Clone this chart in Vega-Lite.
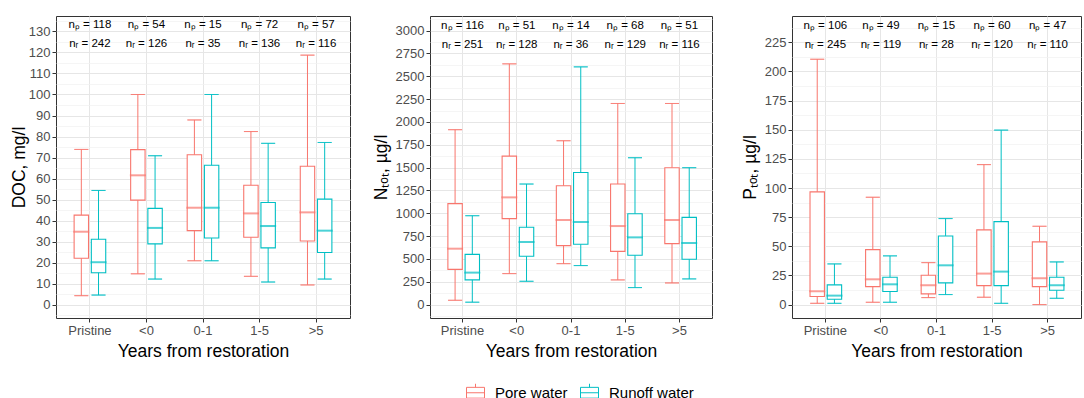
{
  "$schema": "https://vega.github.io/schema/vega-lite/v6.json",
  "padding": {"left": 9, "top": 15, "right": 0, "bottom": 0},
  "background": "white",
  "bounds": "flush",
  "spacing": 80,
  "datasets": {
    "doc": [
      {"cat": "Pristine", "type": "Pore water", "min": 4.4, "q1": 22.2, "med": 34.8, "q3": 42.7, "max": 73.9},
      {"cat": "Pristine", "type": "Runoff water", "min": 4.7, "q1": 15.3, "med": 20.3, "q3": 31.2, "max": 54.4},
      {"cat": "<0", "type": "Pore water", "min": 14.8, "q1": 49.8, "med": 61.6, "q3": 73.8, "max": 100},
      {"cat": "<0", "type": "Runoff water", "min": 12.3, "q1": 29.0, "med": 36.6, "q3": 45.9, "max": 70.9},
      {"cat": "0-1", "type": "Pore water", "min": 21.0, "q1": 35.3, "med": 46.2, "q3": 71.4, "max": 87.9},
      {"cat": "0-1", "type": "Runoff water", "min": 21.0, "q1": 31.8, "med": 46.2, "q3": 66.4, "max": 100},
      {"cat": "1-5", "type": "Pore water", "min": 13.6, "q1": 32.2, "med": 43.5, "q3": 56.9, "max": 82.4},
      {"cat": "1-5", "type": "Runoff water", "min": 10.9, "q1": 27.1, "med": 37.5, "q3": 48.7, "max": 76.8},
      {"cat": ">5", "type": "Pore water", "min": 9.5, "q1": 30.4, "med": 44.0, "q3": 65.9, "max": 118.7},
      {"cat": ">5", "type": "Runoff water", "min": 12.3, "q1": 24.9, "med": 35.3, "q3": 50.3, "max": 77.2}
    ],
    "ntot": [
      {"cat": "Pristine", "type": "Pore water", "min": 47, "q1": 386, "med": 612, "q3": 1105, "max": 1915},
      {"cat": "Pristine", "type": "Runoff water", "min": 26, "q1": 270, "med": 350, "q3": 550, "max": 973},
      {"cat": "<0", "type": "Pore water", "min": 339, "q1": 941, "med": 1174, "q3": 1626, "max": 2636},
      {"cat": "<0", "type": "Runoff water", "min": 255, "q1": 529, "med": 685, "q3": 846, "max": 1320},
      {"cat": "0-1", "type": "Pore water", "min": 448, "q1": 645, "med": 926, "q3": 1302, "max": 1794},
      {"cat": "0-1", "type": "Runoff water", "min": 427, "q1": 660, "med": 904, "q3": 1447, "max": 2603},
      {"cat": "1-5", "type": "Pore water", "min": 270, "q1": 583, "med": 860, "q3": 1320, "max": 2202},
      {"cat": "1-5", "type": "Runoff water", "min": 186, "q1": 540, "med": 736, "q3": 995, "max": 1608},
      {"cat": ">5", "type": "Pore water", "min": 237, "q1": 667, "med": 926, "q3": 1499, "max": 2202},
      {"cat": ">5", "type": "Runoff water", "min": 281, "q1": 496, "med": 675, "q3": 955, "max": 1499}
    ],
    "ptot": [
      {"cat": "Pristine", "type": "Pore water", "min": 1.1, "q1": 6.9, "med": 11.4, "q3": 96.7, "max": 210.5},
      {"cat": "Pristine", "type": "Runoff water", "min": 1.1, "q1": 4.6, "med": 7.7, "q3": 16.9, "max": 34.9},
      {"cat": "<0", "type": "Pore water", "min": 2.0, "q1": 15.4, "med": 21.7, "q3": 47.2, "max": 92.1},
      {"cat": "<0", "type": "Runoff water", "min": 2.0, "q1": 11.2, "med": 17.4, "q3": 23.5, "max": 41.8},
      {"cat": "0-1", "type": "Pore water", "min": 6.0, "q1": 9.2, "med": 16.6, "q3": 25.2, "max": 36.0},
      {"cat": "0-1", "type": "Runoff water", "min": 8.6, "q1": 18.6, "med": 33.7, "q3": 58.9, "max": 73.8},
      {"cat": "1-5", "type": "Pore water", "min": 6.3, "q1": 16.3, "med": 26.6, "q3": 64.1, "max": 120.1},
      {"cat": "1-5", "type": "Runoff water", "min": 1.1, "q1": 16.3, "med": 28.3, "q3": 71.2, "max": 149.7},
      {"cat": ">5", "type": "Pore water", "min": 0, "q1": 15.4, "med": 22.6, "q3": 53.8, "max": 67.2},
      {"cat": ">5", "type": "Runoff water", "min": 5.4, "q1": 12.3, "med": 16.6, "q3": 23.5, "max": 36.6}
    ],
    "ndoc": [
      {"cat": "Pristine", "np": "nₚ = 118", "nr": "nᵣ = 242"},
      {"cat": "<0", "np": "nₚ = 54", "nr": "nᵣ = 126"},
      {"cat": "0-1", "np": "nₚ = 15", "nr": "nᵣ = 35"},
      {"cat": "1-5", "np": "nₚ = 72", "nr": "nᵣ = 136"},
      {"cat": ">5", "np": "nₚ = 57", "nr": "nᵣ = 116"}
    ],
    "nntot": [
      {"cat": "Pristine", "np": "nₚ = 116", "nr": "nᵣ = 251"},
      {"cat": "<0", "np": "nₚ = 51", "nr": "nᵣ = 128"},
      {"cat": "0-1", "np": "nₚ = 14", "nr": "nᵣ = 36"},
      {"cat": "1-5", "np": "nₚ = 68", "nr": "nᵣ = 129"},
      {"cat": ">5", "np": "nₚ = 51", "nr": "nᵣ = 116"}
    ],
    "nptot": [
      {"cat": "Pristine", "np": "nₚ = 106", "nr": "nᵣ = 245"},
      {"cat": "<0", "np": "nₚ = 49", "nr": "nᵣ = 119"},
      {"cat": "0-1", "np": "nₚ = 15", "nr": "nᵣ = 28"},
      {"cat": "1-5", "np": "nₚ = 60", "nr": "nᵣ = 120"},
      {"cat": ">5", "np": "nₚ = 47", "nr": "nᵣ = 110"}
    ]
  },
  "hconcat": [
    {
      "width": 294, "height": 302,
      "layer": [
        {
          "data": {"name": "doc"},
          "encoding": {
            "x": {"field": "cat", "type": "nominal", "sort": ["Pristine", "<0", "0-1", "1-5", ">5"], "scale": {"paddingInner": 0, "paddingOuter": 0.1}, "axis": {"title": "Years from restoration", "labelAngle": 0, "grid": true}},
            "xOffset": {"field": "type", "type": "nominal", "scale": {"paddingInner": 0.163, "paddingOuter": 0.724}}
          },
          "layer": [
            {"mark": {"type": "bar", "fill": "white", "strokeWidth": 1.1}, "encoding": {"y": {"field": "q1", "type": "quantitative", "scale": {"domain": [-6.2, 137.3], "nice": false, "zero": false},
              "axis": {"title": "DOC, mg/l", "titlePadding": 0, "tickCount": 100, "labelOverlap": false, "values": [-5,0,5,10,15,20,25,30,35,40,45,50,55,60,65,70,75,80,85,90,95,100,105,110,115,120,125,130,135], "format": "d",
                "labelExpr": "datum.value % 10 === 0 ? datum.label : ''",
                "labelFontSize": {"condition": {"test": "datum.value % 10 === 0", "value": 13}, "value": 1},
                "tickOpacity": {"condition": {"test": "datum.value % 10 === 0", "value": 1}, "value": 0},
                "gridColor": {"condition": {"test": "datum.value % 10 === 0", "value": "#E6E6E6"}, "value": "#F0F0F0"},
                "gridWidth": {"condition": {"test": "datum.value % 10 === 0", "value": 1}, "value": 0.7}}},
              "y2": {"field": "q3"},
              "stroke": {"field": "type", "type": "nominal", "scale": {"domain": ["Pore water", "Runoff water"], "range": ["#F8766D", "#00BFC4"]},
                "legend": {"title": null, "orient": "none", "legendX": 410, "legendY": 367, "direction": "horizontal", "symbolType": "M-1,-0.6H1V0.6H-1Z M0,-0.6V-1 M0,0.6V1 M-1,0H1", "symbolSize": 324, "symbolStrokeWidth": 1, "symbolFillColor": "white", "labelFontSize": 15, "labelColor": "black", "labelOffset": 10, "columnPadding": 10}}}},
            {"mark": {"type": "rule", "strokeWidth": 1}, "encoding": {"y": {"field": "min", "type": "quantitative"}, "y2": {"field": "q1"}, "stroke": {"field": "type", "type": "nominal"}}},
            {"mark": {"type": "rule", "strokeWidth": 1}, "encoding": {"y": {"field": "q3", "type": "quantitative"}, "y2": {"field": "max"}, "stroke": {"field": "type", "type": "nominal"}}},
            {"mark": {"type": "tick", "size": 14, "thickness": 0.01, "filled": false, "strokeWidth": 2}, "encoding": {"y": {"field": "med", "type": "quantitative"}, "stroke": {"field": "type", "type": "nominal"}}},
            {"mark": {"type": "tick", "size": 14, "thickness": 0.01, "filled": false, "strokeWidth": 1}, "encoding": {"y": {"field": "min", "type": "quantitative"}, "stroke": {"field": "type", "type": "nominal"}}},
            {"mark": {"type": "tick", "size": 14, "thickness": 0.01, "filled": false, "strokeWidth": 1}, "encoding": {"y": {"field": "max", "type": "quantitative"}, "stroke": {"field": "type", "type": "nominal"}}}
          ]
        },
        {"data": {"name": "ndoc"}, "mark": {"type": "text", "fontSize": 11.5, "color": "black", "baseline": "middle"},
          "encoding": {"x": {"field": "cat", "type": "nominal", "sort": ["Pristine", "<0", "0-1", "1-5", ">5"]}, "y": {"datum": 132.9}, "text": {"field": "np"}}},
        {"data": {"name": "ndoc"}, "mark": {"type": "text", "fontSize": 11.5, "color": "black", "baseline": "middle"},
          "encoding": {"x": {"field": "cat", "type": "nominal", "sort": ["Pristine", "<0", "0-1", "1-5", ">5"]}, "y": {"datum": 123.8}, "text": {"field": "nr"}}}
      ]
    },
    {
      "width": 282, "height": 302,
      "layer": [
        {
          "data": {"name": "ntot"},
          "encoding": {
            "x": {"field": "cat", "type": "nominal", "sort": ["Pristine", "<0", "0-1", "1-5", ">5"], "scale": {"paddingInner": 0, "paddingOuter": 0.1}, "axis": {"title": "Years from restoration", "labelAngle": 0, "grid": true}},
            "xOffset": {"field": "type", "type": "nominal", "scale": {"paddingInner": 0.163, "paddingOuter": 0.724}}
          },
          "layer": [
            {"mark": {"type": "bar", "fill": "white", "strokeWidth": 1.1}, "encoding": {"y": {"field": "q1", "type": "quantitative", "scale": {"domain": [-147, 3160], "nice": false, "zero": false},
              "axis": {"title": "Nₜₒₜ, µg/l", "titlePadding": 5, "tickCount": 100, "labelOverlap": false, "values": [-125,0,125,250,375,500,625,750,875,1000,1125,1250,1375,1500,1625,1750,1875,2000,2125,2250,2375,2500,2625,2750,2875,3000,3125], "format": "d",
                "labelExpr": "datum.value % 250 === 0 ? datum.label : ''",
                "labelFontSize": {"condition": {"test": "datum.value % 250 === 0", "value": 13}, "value": 1},
                "tickOpacity": {"condition": {"test": "datum.value % 250 === 0", "value": 1}, "value": 0},
                "gridColor": {"condition": {"test": "datum.value % 250 === 0", "value": "#E6E6E6"}, "value": "#F0F0F0"},
                "gridWidth": {"condition": {"test": "datum.value % 250 === 0", "value": 1}, "value": 0.7}}},
              "y2": {"field": "q3"},
              "stroke": {"field": "type", "type": "nominal", "scale": {"domain": ["Pore water", "Runoff water"], "range": ["#F8766D", "#00BFC4"]},
                "legend": {"title": null, "orient": "none", "legendX": 410, "legendY": 367, "direction": "horizontal", "symbolType": "M-1,-0.6H1V0.6H-1Z M0,-0.6V-1 M0,0.6V1 M-1,0H1", "symbolSize": 324, "symbolStrokeWidth": 1, "symbolFillColor": "white", "labelFontSize": 15, "labelColor": "black", "labelOffset": 10, "columnPadding": 10}}}},
            {"mark": {"type": "rule", "strokeWidth": 1}, "encoding": {"y": {"field": "min", "type": "quantitative"}, "y2": {"field": "q1"}, "stroke": {"field": "type", "type": "nominal"}}},
            {"mark": {"type": "rule", "strokeWidth": 1}, "encoding": {"y": {"field": "q3", "type": "quantitative"}, "y2": {"field": "max"}, "stroke": {"field": "type", "type": "nominal"}}},
            {"mark": {"type": "tick", "size": 14, "thickness": 0.01, "filled": false, "strokeWidth": 2}, "encoding": {"y": {"field": "med", "type": "quantitative"}, "stroke": {"field": "type", "type": "nominal"}}},
            {"mark": {"type": "tick", "size": 14, "thickness": 0.01, "filled": false, "strokeWidth": 1}, "encoding": {"y": {"field": "min", "type": "quantitative"}, "stroke": {"field": "type", "type": "nominal"}}},
            {"mark": {"type": "tick", "size": 14, "thickness": 0.01, "filled": false, "strokeWidth": 1}, "encoding": {"y": {"field": "max", "type": "quantitative"}, "stroke": {"field": "type", "type": "nominal"}}}
          ]
        },
        {"data": {"name": "nntot"}, "mark": {"type": "text", "fontSize": 11.5, "color": "black", "baseline": "middle"},
          "encoding": {"x": {"field": "cat", "type": "nominal", "sort": ["Pristine", "<0", "0-1", "1-5", ">5"]}, "y": {"datum": 3047}, "text": {"field": "np"}}},
        {"data": {"name": "nntot"}, "mark": {"type": "text", "fontSize": 11.5, "color": "black", "baseline": "middle"},
          "encoding": {"x": {"field": "cat", "type": "nominal", "sort": ["Pristine", "<0", "0-1", "1-5", ">5"]}, "y": {"datum": 2847}, "text": {"field": "nr"}}}
      ]
    },
    {
      "width": 289, "height": 302,
      "layer": [
        {
          "data": {"name": "ptot"},
          "encoding": {
            "x": {"field": "cat", "type": "nominal", "sort": ["Pristine", "<0", "0-1", "1-5", ">5"], "scale": {"paddingInner": 0, "paddingOuter": 0.1}, "axis": {"title": "Years from restoration", "labelAngle": 0, "grid": true}},
            "xOffset": {"field": "type", "type": "nominal", "scale": {"paddingInner": 0.163, "paddingOuter": 0.724}}
          },
          "layer": [
            {"mark": {"type": "bar", "fill": "white", "strokeWidth": 1.1}, "encoding": {"y": {"field": "q1", "type": "quantitative", "scale": {"domain": [-11.5, 247.6], "nice": false, "zero": false},
              "axis": {"title": "Pₜₒₜ, µg/l", "titlePadding": 5, "tickCount": 100, "labelOverlap": false, "values": [0,12.5,25,37.5,50,62.5,75,87.5,100,112.5,125,137.5,150,162.5,175,187.5,200,212.5,225,237.5], "format": "d",
                "labelExpr": "datum.value % 25 === 0 ? datum.label : ''",
                "labelFontSize": {"condition": {"test": "datum.value % 25 === 0", "value": 13}, "value": 1},
                "tickOpacity": {"condition": {"test": "datum.value % 25 === 0", "value": 1}, "value": 0},
                "gridColor": {"condition": {"test": "datum.value % 25 === 0", "value": "#E6E6E6"}, "value": "#F0F0F0"},
                "gridWidth": {"condition": {"test": "datum.value % 25 === 0", "value": 1}, "value": 0.7}}},
              "y2": {"field": "q3"},
              "stroke": {"field": "type", "type": "nominal", "scale": {"domain": ["Pore water", "Runoff water"], "range": ["#F8766D", "#00BFC4"]},
                "legend": {"title": null, "orient": "none", "legendX": 410, "legendY": 367, "direction": "horizontal", "symbolType": "M-1,-0.6H1V0.6H-1Z M0,-0.6V-1 M0,0.6V1 M-1,0H1", "symbolSize": 324, "symbolStrokeWidth": 1, "symbolFillColor": "white", "labelFontSize": 15, "labelColor": "black", "labelOffset": 10, "columnPadding": 10}}}},
            {"mark": {"type": "rule", "strokeWidth": 1}, "encoding": {"y": {"field": "min", "type": "quantitative"}, "y2": {"field": "q1"}, "stroke": {"field": "type", "type": "nominal"}}},
            {"mark": {"type": "rule", "strokeWidth": 1}, "encoding": {"y": {"field": "q3", "type": "quantitative"}, "y2": {"field": "max"}, "stroke": {"field": "type", "type": "nominal"}}},
            {"mark": {"type": "tick", "size": 14, "thickness": 0.01, "filled": false, "strokeWidth": 2}, "encoding": {"y": {"field": "med", "type": "quantitative"}, "stroke": {"field": "type", "type": "nominal"}}},
            {"mark": {"type": "tick", "size": 14, "thickness": 0.01, "filled": false, "strokeWidth": 1}, "encoding": {"y": {"field": "min", "type": "quantitative"}, "stroke": {"field": "type", "type": "nominal"}}},
            {"mark": {"type": "tick", "size": 14, "thickness": 0.01, "filled": false, "strokeWidth": 1}, "encoding": {"y": {"field": "max", "type": "quantitative"}, "stroke": {"field": "type", "type": "nominal"}}}
          ]
        },
        {"data": {"name": "nptot"}, "mark": {"type": "text", "fontSize": 11.5, "color": "black", "baseline": "middle"},
          "encoding": {"x": {"field": "cat", "type": "nominal", "sort": ["Pristine", "<0", "0-1", "1-5", ">5"]}, "y": {"datum": 238.7}, "text": {"field": "np"}}},
        {"data": {"name": "nptot"}, "mark": {"type": "text", "fontSize": 11.5, "color": "black", "baseline": "middle"},
          "encoding": {"x": {"field": "cat", "type": "nominal", "sort": ["Pristine", "<0", "0-1", "1-5", ">5"]}, "y": {"datum": 223}, "text": {"field": "nr"}}}
      ]
    }
  ],
  "config": {
    "font": "Liberation Sans",
    "view": {"stroke": "#333333", "strokeWidth": 1},
    "axis": {"domain": false, "tickColor": "#333333", "tickSize": 4, "tickWidth": 1, "labelColor": "#4D4D4D", "labelFontSize": 13, "labelPadding": 2, "labelBound": false, "labelFlush": false,
      "titleFontSize": 17.5, "titleFontWeight": "normal", "titleColor": "black", "titlePadding": 5, "gridColor": "#E6E6E6", "gridWidth": 1},
    "legend": {"labelFont": "Liberation Sans"},
    "text": {"font": "Liberation Sans"}
  }
}
